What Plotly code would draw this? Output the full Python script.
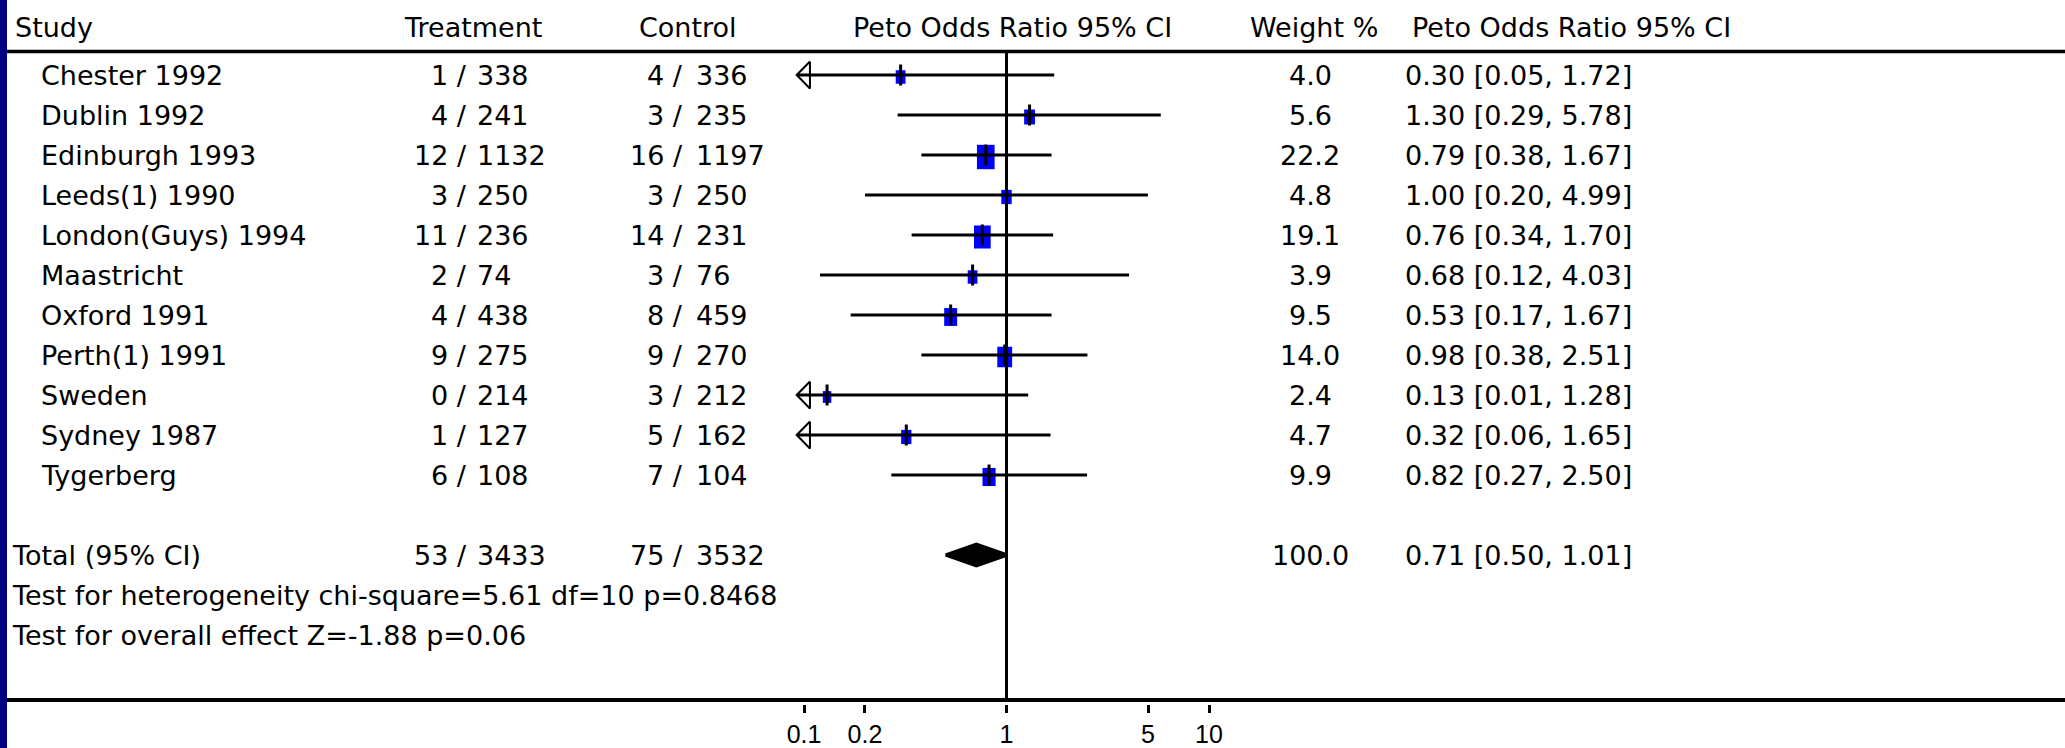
import numpy as np
import plotly.graph_objects as go

# ---------------- data ----------------
studies = ["Chester 1992", "Dublin 1992", "Edinburgh 1993", "Leeds(1) 1990",
           "London(Guys) 1994", "Maastricht", "Oxford 1991", "Perth(1) 1991",
           "Sweden", "Sydney 1987", "Tygerberg"]
treat_events = [1, 4, 12, 3, 11, 2, 4, 9, 0, 1, 6]
treat_total = [338, 241, 1132, 250, 236, 74, 438, 275, 214, 127, 108]
ctrl_events = [4, 3, 16, 3, 14, 3, 8, 9, 3, 5, 7]
ctrl_total = [336, 235, 1197, 250, 231, 76, 459, 270, 212, 162, 104]
weights = [4.0, 5.6, 22.2, 4.8, 19.1, 3.9, 9.5, 14.0, 2.4, 4.7, 9.9]
odds_ratio = [0.30, 1.30, 0.79, 1.00, 0.76, 0.68, 0.53, 0.98, 0.13, 0.32, 0.82]
ci_low = [0.05, 0.29, 0.38, 0.20, 0.34, 0.12, 0.17, 0.38, 0.01, 0.06, 0.27]
ci_high = [1.72, 5.78, 1.67, 4.99, 1.70, 4.03, 1.67, 2.51, 1.28, 1.65, 2.50]

total_label = "Total (95% CI)"
total_treat = [53, 3433]
total_ctrl = [75, 3532]
total_weight = 100.0
total_or = 0.71
total_low = 0.50
total_high = 1.01
heterogeneity_text = "Test for heterogeneity chi-square=5.61 df=10 p=0.8468"
overall_text = "Test for overall effect Z=-1.88 p=0.06"

header_labels = ["Study", "Treatment", "Control", "Peto Odds Ratio 95% CI",
                 "Weight %", "Peto Odds Ratio 95% CI"]
tick_values = [0.1, 0.2, 1, 5, 10]
tick_labels = ["0.1", "0.2", "1", "5", "10"]

# ---------------- layout constants ----------------
W, H = 2065, 748
FONT = "DejaVu Sans"
FS = 27
ROW0_PX, ROW_PX = 75, 40
TOTAL_ROW, HET_ROW, OVERALL_ROW = 12, 13, 14


def row_of(px):
    return (px - ROW0_PX) / ROW_PX


def xp(px):
    return px / W


HEADER_ROW = row_of(27.5)
HEADER_LINE_ROW = row_of(51.5)
AXIS_LINE_ROW = row_of(700)

PX_PER_DECADE = 202.5
X_PX_AT_TENTH = 804
log_lo = -1 - X_PX_AT_TENTH / PX_PER_DECADE
log_hi = -1 + (W - X_PX_AT_TENTH) / PX_PER_DECADE

DISPLAY_MIN = 0.1
ARROW_TIP = 0.092
ARROW_BACK = 0.107
ARROW_HALF = 13.5 / ROW_PX
DIAMOND_HALF = 11 / ROW_PX
BOX_SHIFT = 2 / ROW_PX

BLUE = "#0000FF"
NAVY = "#000080"

rows = list(range(len(studies)))

fig = go.Figure()

# weight boxes: a vertical stroke whose width (px) and length (rows) set the box size
for i, o, w in zip(rows, odds_ratio, weights):
    bw = 4 + 2.9 * np.sqrt(w)
    bh = 1.38 * bw / ROW_PX
    fig.add_trace(go.Scatter(x=[o, o], y=[i + BOX_SHIFT - bh / 2, i + BOX_SHIFT + bh / 2],
                             mode="lines", line=dict(color=BLUE, width=bw),
                             hoverinfo="skip", showlegend=False))

# CI lines
cx, cy = [], []
for i, lo, hi in zip(rows, ci_low, ci_high):
    cx += [max(lo, ARROW_TIP), hi, None]
    cy += [i, i, None]
fig.add_trace(go.Scatter(x=cx, y=cy, mode="lines", line=dict(color="black", width=3),
                         hoverinfo="skip", showlegend=False))

# arrows for truncated CIs
ax_, ay_ = [], []
for i, lo in zip(rows, ci_low):
    if lo < DISPLAY_MIN:
        ax_ += [ARROW_BACK, ARROW_TIP, ARROW_BACK, ARROW_BACK, None]
        ay_ += [i - ARROW_HALF, i, i + ARROW_HALF, i - ARROW_HALF, None]
fig.add_trace(go.Scatter(x=ax_, y=ay_, mode="lines", line=dict(color="black", width=2),
                         hoverinfo="skip", showlegend=False))

# point-estimate ticks
fig.add_trace(go.Scatter(x=odds_ratio, y=rows, mode="markers",
                         marker=dict(symbol="line-ns", size=15,
                                     line=dict(color="black", width=3)),
                         hoverinfo="skip", showlegend=False))

# pooled diamond
fig.add_trace(go.Scatter(x=[total_low, total_or, total_high, total_or, total_low],
                         y=[TOTAL_ROW, TOTAL_ROW - DIAMOND_HALF, TOTAL_ROW,
                            TOTAL_ROW + DIAMOND_HALF, TOTAL_ROW],
                         mode="lines", fill="toself", fillcolor="black",
                         line=dict(color="black", width=3),
                         hoverinfo="skip", showlegend=False))

# line of no effect
fig.add_trace(go.Scatter(x=[1, 1], y=[HEADER_LINE_ROW, AXIS_LINE_ROW], mode="lines",
                         line=dict(color="black", width=3),
                         hoverinfo="skip", showlegend=False))

shapes = []
# left navy border
shapes.append(dict(type="rect", xref="paper", yref="paper", x0=0, x1=xp(7), y0=0, y1=1,
                   fillcolor=NAVY, line=dict(width=0)))
# header and axis rules
shapes.append(dict(type="line", xref="paper", yref="y", x0=xp(7), x1=1,
                   y0=HEADER_LINE_ROW, y1=HEADER_LINE_ROW, line=dict(color="black", width=3.5)))
shapes.append(dict(type="line", xref="paper", yref="y", x0=xp(7), x1=1,
                   y0=AXIS_LINE_ROW, y1=AXIS_LINE_ROW, line=dict(color="black", width=4)))

annotations = []


def txt(x_px, row, text, anchor="left"):
    annotations.append(dict(x=xp(x_px), y=row, xref="paper", yref="y", text=text,
                            xanchor=anchor, yanchor="middle", showarrow=False,
                            font=dict(family=FONT, size=FS, color="black")))


TREAT_SLASH_X, TREAT_TOTAL_X = 469, 475
CTRL_SLASH_X, CTRL_TOTAL_X = 685, 694

# headers
txt(13, HEADER_ROW, header_labels[0], "left")
txt(473, HEADER_ROW, header_labels[1], "center")
txt(688, HEADER_ROW, header_labels[2], "center")
txt(1012, HEADER_ROW, header_labels[3], "center")
txt(1314, HEADER_ROW, header_labels[4], "center")
txt(1410, HEADER_ROW, header_labels[5], "left")

# study rows
for i in rows:
    txt(39, i, studies[i], "left")
    txt(TREAT_SLASH_X, i, f"{treat_events[i]} /", "right")
    txt(TREAT_TOTAL_X, i, f"{treat_total[i]}", "left")
    txt(CTRL_SLASH_X, i, f"{ctrl_events[i]} /", "right")
    txt(CTRL_TOTAL_X, i, f"{ctrl_total[i]}", "left")
    txt(1310, i, f"{weights[i]:.1f}", "center")
    txt(1403, i, f"{odds_ratio[i]:.2f} [{ci_low[i]:.2f}, {ci_high[i]:.2f}]", "left")

# totals
txt(10, TOTAL_ROW, total_label, "left")
txt(TREAT_SLASH_X, TOTAL_ROW, f"{total_treat[0]} /", "right")
txt(TREAT_TOTAL_X, TOTAL_ROW, f"{total_treat[1]}", "left")
txt(CTRL_SLASH_X, TOTAL_ROW, f"{total_ctrl[0]} /", "right")
txt(CTRL_TOTAL_X, TOTAL_ROW, f"{total_ctrl[1]}", "left")
txt(1310, TOTAL_ROW, f"{total_weight:.1f}", "center")
txt(1403, TOTAL_ROW, f"{total_or:.2f} [{total_low:.2f}, {total_high:.2f}]", "left")
txt(10, HET_ROW, heterogeneity_text, "left")
txt(10, OVERALL_ROW, overall_text, "left")

fig.update_layout(
    width=W, height=H,
    margin=dict(l=0, r=0, t=0, b=0),
    paper_bgcolor="white", plot_bgcolor="white",
    showlegend=False, hovermode=False,
    shapes=shapes, annotations=annotations,
    xaxis=dict(type="log", range=[log_lo, log_hi], domain=[0, 1],
               anchor="free", position=1 - 704 / H,
               showgrid=False, zeroline=False, showline=False,
               ticks="outside", ticklen=8, tickwidth=3, tickcolor="black",
               tickvals=tick_values, ticktext=tick_labels,
               tickfont=dict(family="Liberation Sans", size=25, color="black"),
               automargin=False, fixedrange=True),
    yaxis=dict(range=[row_of(H), row_of(0)], domain=[0, 1], visible=False,
               showgrid=False, zeroline=False, automargin=False, fixedrange=True),
)

fig.write_html("out.html", config={"displayModeBar": False, "staticPlot": True},
               post_script="document.body.style.margin='0';document.body.style.overflow='hidden';")
